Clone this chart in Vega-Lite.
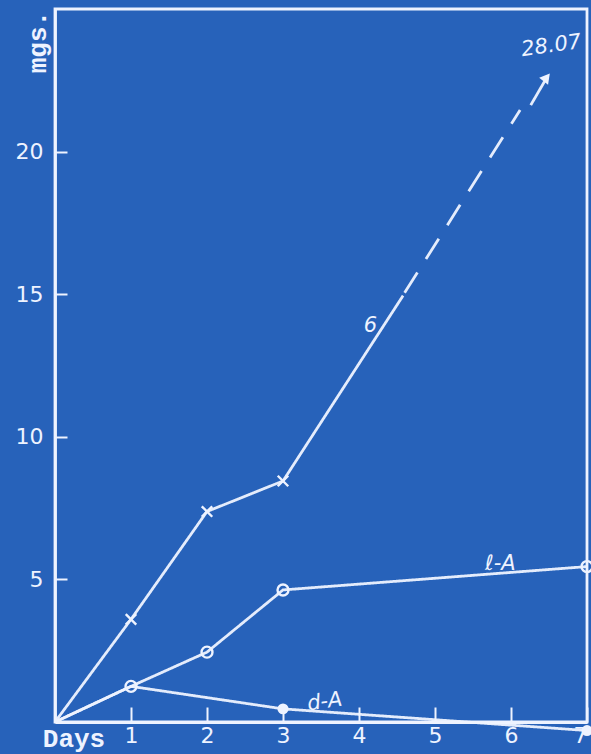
{
  "$schema": "https://vega.github.io/schema/vega-lite/v6.json",
  "width": 532,
  "height": 713,
  "autosize": "none",
  "padding": {"left": 55, "top": 9, "right": 4, "bottom": 32},
  "background": "#2762ba",
  "config": {
    "view": {"stroke": "#eef3ff", "strokeWidth": 2.8},
    "axis": {
      "grid": false,
      "domainColor": "#eef3ff",
      "domainWidth": 2.8,
      "tickColor": "#eef3ff",
      "tickWidth": 2,
      "labelColor": "#eef3ff",
      "labelFont": "DejaVu Sans",
      "labelFontSize": 22,
      "title": null
    }
  },
  "datasets": {
    "lines": [
      {"series": "b", "style": "solid", "ord": 0, "x": 0, "y": 0},
      {"series": "b", "style": "solid", "ord": 1, "x": 1, "y": 3.6},
      {"series": "b", "style": "solid", "ord": 2, "x": 2, "y": 7.38},
      {"series": "b", "style": "solid", "ord": 3, "x": 3, "y": 8.45},
      {"series": "b", "style": "solid", "ord": 4, "x": 4.58, "y": 14.95},
      {"series": "b2", "style": "dashed", "ord": 0, "x": 4.6, "y": 15.05},
      {"series": "b2", "style": "dashed", "ord": 1, "x": 6.12, "y": 21.46},
      {"series": "lA", "style": "solid", "ord": 0, "x": 0, "y": 0},
      {"series": "lA", "style": "solid", "ord": 1, "x": 1, "y": 1.25},
      {"series": "lA", "style": "solid", "ord": 2, "x": 2, "y": 2.45},
      {"series": "lA", "style": "solid", "ord": 3, "x": 3, "y": 4.63},
      {"series": "lA", "style": "solid", "ord": 4, "x": 7, "y": 5.45},
      {"series": "dA", "style": "solid", "ord": 0, "x": 0, "y": 0},
      {"series": "dA", "style": "solid", "ord": 1, "x": 1, "y": 1.25},
      {"series": "dA", "style": "solid", "ord": 2, "x": 3, "y": 0.46},
      {"series": "dA", "style": "solid", "ord": 3, "x": 7, "y": -0.3},
      {"series": "arrow", "style": "solid", "ord": 0, "x": 6.26, "y": 21.63},
      {"series": "arrow", "style": "solid", "ord": 1, "x": 6.45, "y": 22.5}
    ],
    "crosses": [
      {"x": 1, "y": 3.6},
      {"x": 2, "y": 7.38},
      {"x": 3, "y": 8.45}
    ],
    "hollow": [
      {"x": 1, "y": 1.25},
      {"x": 2, "y": 2.45},
      {"x": 3, "y": 4.63},
      {"x": 7, "y": 5.45}
    ],
    "filled": [
      {"x": 3, "y": 0.46},
      {"x": 7, "y": -0.3}
    ],
    "heads": [
      {"x": 6.47, "y": 22.6, "angle": 39}
    ],
    "hand": [
      {"text": "6", "x": 4.15, "y": 13.9, "angle": 0},
      {"text": "ℓ-A", "x": 5.86, "y": 5.55, "angle": 0},
      {"text": "d-A", "x": 3.55, "y": 0.7, "angle": -8},
      {"text": "28.07", "x": 6.53, "y": 23.7, "angle": -8}
    ],
    "mono": [
      {"text": "mgs.", "x": -0.22, "y": 23.84, "angle": 270},
      {"text": "Days", "x": 0.25, "y": -0.58, "angle": 0}
    ]
  },
  "encoding": {
    "x": {
      "field": "x",
      "type": "quantitative",
      "scale": {"domain": [0, 7], "nice": false, "zero": false},
      "axis": {"values": [1, 2, 3, 4, 5, 6, 7], "tickSize": -15, "labelPadding": 18}
    },
    "y": {
      "field": "y",
      "type": "quantitative",
      "scale": {"domain": [0, 25], "nice": false, "zero": false},
      "axis": {"values": [5, 10, 15, 20], "tickSize": -12, "labelPadding": 24}
    }
  },
  "layer": [
    {
      "data": {"name": "lines"},
      "mark": {"type": "line", "color": "#eef3ff", "strokeWidth": 2.8, "opacity": 0.95},
      "encoding": {
        "detail": {"field": "series"},
        "order": {"field": "ord"},
        "strokeDash": {
          "field": "style",
          "type": "nominal",
          "scale": {"domain": ["solid", "dashed"], "range": [[1, 0], [24, 16]]},
          "legend": null
        }
      }
    },
    {
      "data": {"name": "crosses"},
      "mark": {"type": "point", "shape": "M-1,-1L1,1M1,-1L-1,1", "filled": false, "stroke": "#eef3ff", "strokeWidth": 2.4, "size": 110, "opacity": 1}
    },
    {
      "data": {"name": "hollow"},
      "mark": {"type": "point", "shape": "circle", "filled": false, "stroke": "#eef3ff", "strokeWidth": 2.4, "size": 120, "opacity": 1}
    },
    {
      "data": {"name": "filled"},
      "mark": {"type": "point", "shape": "circle", "filled": true, "fill": "#eef3ff", "size": 120, "opacity": 1}
    },
    {
      "data": {"name": "heads"},
      "mark": {"type": "point", "shape": "triangle-up", "filled": true, "fill": "#eef3ff", "size": 130, "opacity": 1},
      "encoding": {"angle": {"field": "angle", "type": "quantitative", "scale": null}}
    },
    {
      "data": {"name": "hand"},
      "mark": {"type": "text", "font": "DejaVu Sans", "fontStyle": "italic", "fontSize": 21, "color": "#eef3ff"},
      "encoding": {
        "text": {"field": "text"},
        "angle": {"field": "angle", "type": "quantitative", "scale": null}
      }
    },
    {
      "data": {"name": "mono"},
      "mark": {"type": "text", "font": "Liberation Mono", "fontWeight": "bold", "fontSize": 26, "color": "#eef3ff"},
      "encoding": {
        "text": {"field": "text"},
        "angle": {"field": "angle", "type": "quantitative", "scale": null}
      }
    }
  ]
}
